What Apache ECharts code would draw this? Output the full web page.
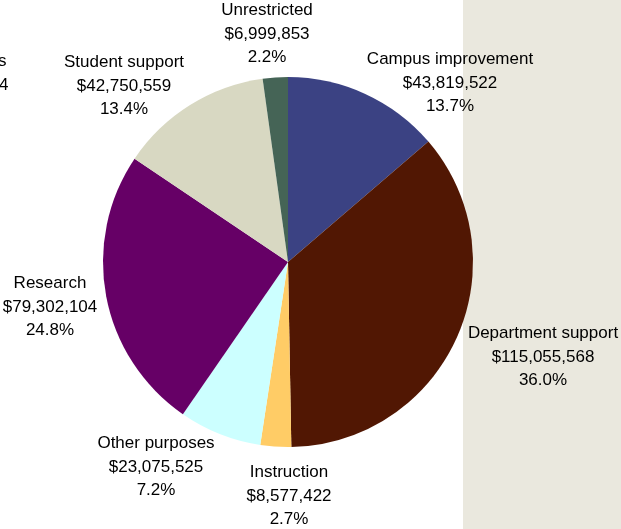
<!DOCTYPE html>
<html>
<head>
<meta charset="utf-8">
<script src="https://cdn.jsdelivr.net/npm/echarts@6/dist/echarts.min.js"></script>
<style>
  html, body { margin: 0; padding: 0; background: #fff; }
  #chart { width: 621px; height: 529px; }
</style>
</head>
<body>
<div id="chart"></div>
<script>
// data
var categories = ['Campus improvement', 'Department support', 'Instruction', 'Other purposes', 'Research', 'Student support', 'Unrestricted'];
var amounts = [43819522, 115055568, 8577422, 23075525, 79302104, 42750559, 6999853];
var percents = ['13.7%', '36.0%', '2.7%', '7.2%', '24.8%', '13.4%', '2.2%'];

// styling
var colors = ['#3b4283', '#511703', '#ffcc66', '#ccffff', '#660066', '#d8d8c2', '#456456'];
var labelSpots = [[450, 83], [543, 357], [289, 496], [156, 467], [50, 307], [124, 86], [267, 34]];

var myChart = echarts.init(document.getElementById('chart'));
var fmt = function (v) {
  return '$' + v.toString().replace(/\B(?=(\d{3})+(?!\d))/g, ',');
};
var option = {
  animation: false,
  textStyle: { fontFamily: 'Liberation Sans, Arial, sans-serif' },
  graphic: [
    { type: 'rect', z: -10, shape: { x: 463, y: 0, width: 158, height: 529 }, style: { fill: '#eae8de' } },
    { type: 'text', left: -2, top: 53, style: { text: 's', fontSize: 17, fill: '#000', fontFamily: 'Liberation Sans' } },
    { type: 'text', left: -1, top: 77, style: { text: '4', fontSize: 17, fill: '#000', fontFamily: 'Liberation Sans' } }
  ],
  series: [{
    type: 'pie',
    center: [288, 262],
    radius: 185,
    startAngle: 90,
    clockwise: true,
    color: colors,
    itemStyle: { borderWidth: 0 },
    label: {
      show: true,
      color: '#000',
      fontSize: 17,
      lineHeight: 23.5,
      align: 'center',
      overflow: 'none',
      formatter: function (p) {
        return p.name + '\n' + fmt(p.value) + '\n' + percents[p.dataIndex];
      }
    },
    labelLine: { show: false },
    labelLayout: function (p) {
      var s = labelSpots[p.dataIndex];
      return { x: s[0], y: s[1], align: 'center', verticalAlign: 'middle' };
    },
    data: categories.map(function (c, i) { return { name: c, value: amounts[i] }; })
  }]
};
myChart.setOption(option);
</script>
</body>
</html>
